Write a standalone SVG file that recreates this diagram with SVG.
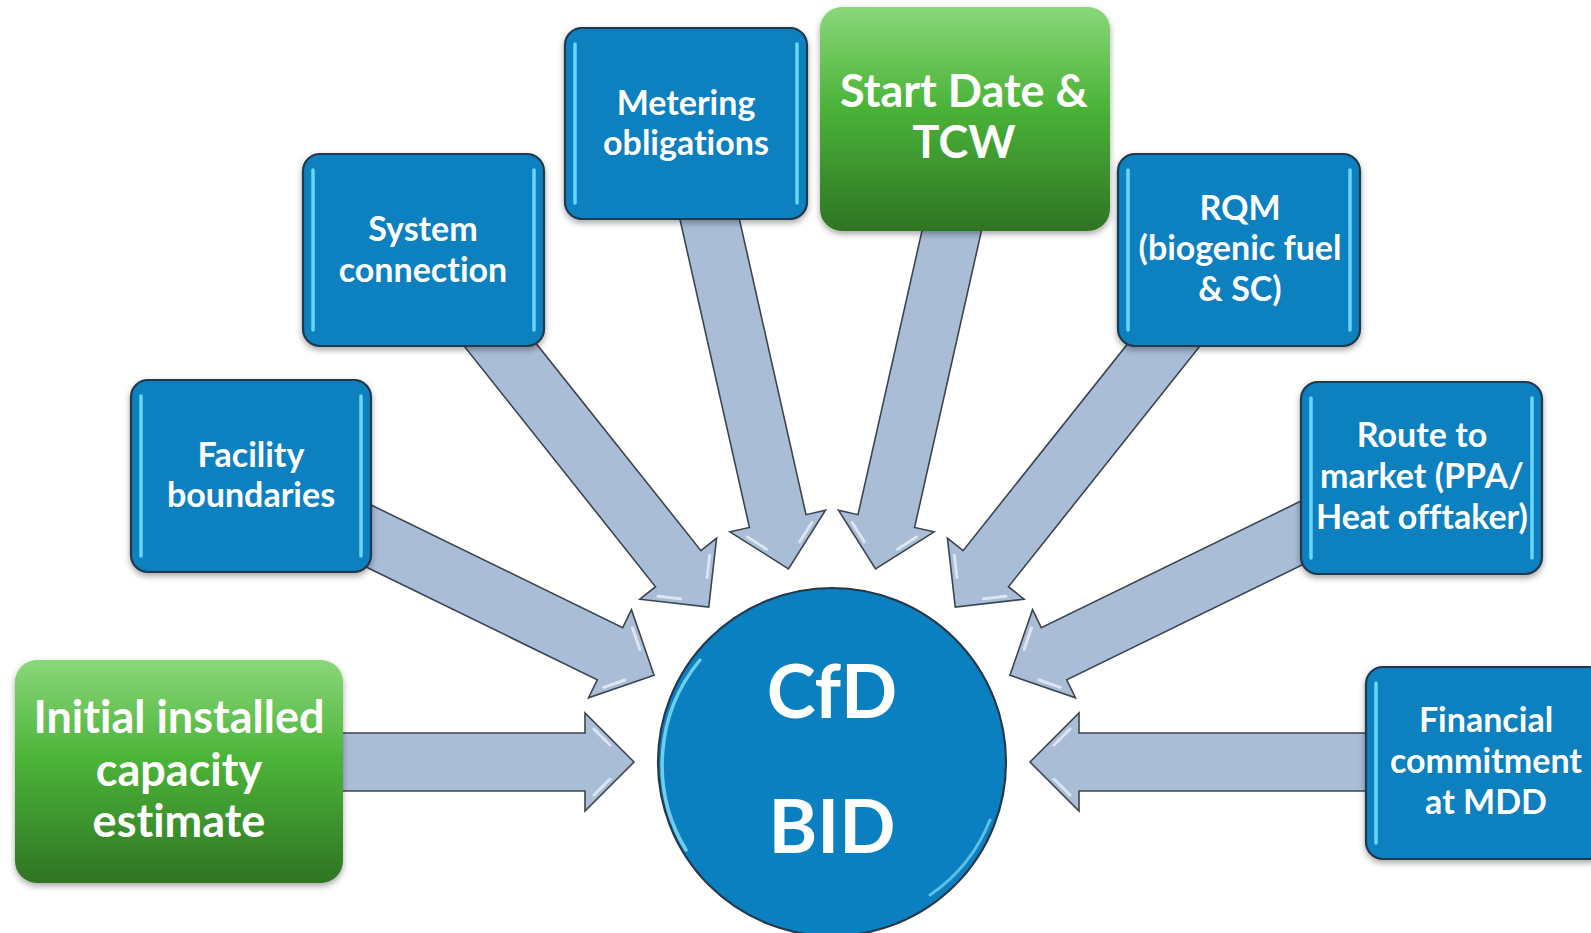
<svg xmlns="http://www.w3.org/2000/svg" xmlns:xlink="http://www.w3.org/1999/xlink" width="1591" height="933" viewBox="0 0 1591 933">
<style>
.arr{fill:#a9bdd7;stroke:#3c4550;stroke-width:1.6;stroke-linejoin:miter}
.hl{fill:none;stroke:#eef4fb;stroke-width:3;stroke-linecap:round;opacity:0.75}
.bbox{fill:#0a80c0;stroke:#22384e;stroke-width:2.2}
.side{stroke:#6ad6f7;stroke-width:3.5;stroke-linecap:round;fill:none}
.gbox{fill:url(#green)}
.t{font-family:Lato,"Open Sans","Liberation Sans",sans-serif;font-weight:700;fill:#ffffff;text-anchor:middle;font-variant-ligatures:none;font-feature-settings:"liga" 0,"dlig" 0}
.s33{font-size:34px}
.s45{font-size:45px}
.big{font-size:74px}
</style>
<defs>
<linearGradient id="green" x1="0" y1="0" x2="0" y2="1">
<stop offset="0" stop-color="#8ad77a"/>
<stop offset="0.45" stop-color="#4bb338"/>
<stop offset="1" stop-color="#2f7424"/>
</linearGradient>
<filter id="sh" x="-10%" y="-10%" width="120%" height="125%">
<feDropShadow dx="0" dy="3" stdDeviation="3" flood-color="#000" flood-opacity="0.35"/>
</filter>
<g id="arrow">
<polygon class="arr" points="-600,-29 -247,-29 -247,-49 -198,0 -247,49 -247,29 -600,29"/>
<path class="hl" d="M-238,-33 L-222,-17 M-238,33 L-222,17"/>
</g>
</defs>
<rect width="1591" height="933" fill="#ffffff"/>
<g id="connectors">
<use xlink:href="#arrow" transform="translate(832 762) rotate(0)"/>
<use xlink:href="#arrow" transform="translate(832 762) rotate(26)"/>
<use xlink:href="#arrow" transform="translate(832 762) rotate(51.5)"/>
<use xlink:href="#arrow" transform="translate(832 762) rotate(77.3)"/>
<use xlink:href="#arrow" transform="translate(832 762) rotate(102.7)"/>
<use xlink:href="#arrow" transform="translate(832 762) rotate(128.5)"/>
<use xlink:href="#arrow" transform="translate(832 762) rotate(154)"/>
<use xlink:href="#arrow" transform="translate(832 762) rotate(180)"/>
</g>
<g id="cfd-bid">
<circle cx="832" cy="762" r="174" fill="#0a80c0" stroke="#26384a" stroke-width="2.2"/>
<path d="M700,660 A164,164 0 0 0 686,850" fill="none" stroke="#7fdcf8" stroke-width="3.5" stroke-linecap="round" opacity="0.85"/>
<path d="M990,820 A164,164 0 0 1 930,895" fill="none" stroke="#7fdcf8" stroke-width="3" stroke-linecap="round" opacity="0.7"/>
<text class="t big" x="832" y="718">CfD</text>
<text class="t big" x="832" y="853">BID</text>
</g>
<g id="initial-capacity">
<rect class="gbox" x="15" y="660" width="328" height="223" rx="22" filter="url(#sh)"/>
<text class="t s45" x="179" y="733">Initial installed</text>
<text class="t s45" x="179" y="786">capacity</text>
<text class="t s45" x="179" y="837">estimate</text>
</g>
<g id="facility-boundaries">
<rect class="bbox" x="131" y="380" width="240" height="192" rx="17" filter="url(#sh)"/>
<path class="side" d="M141,396 V556 M361,396 V556"/>
<text class="t s33" x="251" y="467">Facility</text>
<text class="t s33" x="251" y="507">boundaries</text>
</g>
<g id="system-connection">
<rect class="bbox" x="303" y="154" width="241" height="192" rx="17" filter="url(#sh)"/>
<path class="side" d="M313,170 V330 M534,170 V330"/>
<text class="t s33" x="423" y="241">System</text>
<text class="t s33" x="423" y="282">connection</text>
</g>
<g id="metering-obligations">
<rect class="bbox" x="565" y="28" width="242" height="191" rx="17" filter="url(#sh)"/>
<path class="side" d="M575,44 V203 M797,44 V203"/>
<text class="t s33" x="686" y="115">Metering</text>
<text class="t s33" x="686" y="155">obligations</text>
</g>
<g id="start-date-tcw">
<rect class="gbox" x="820" y="7" width="290" height="224" rx="22" filter="url(#sh)"/>
<text class="t s45" x="964" y="107">Start Date &amp;</text>
<text class="t s45" x="964" y="158">TCW</text>
</g>
<g id="rqm">
<rect class="bbox" x="1118" y="154" width="242" height="192" rx="17" filter="url(#sh)"/>
<path class="side" d="M1128,170 V330 M1350,170 V330"/>
<text class="t s33" x="1240" y="220">RQM</text>
<text class="t s33" x="1240" y="260">(biogenic fuel</text>
<text class="t s33" x="1240" y="301">&amp; SC)</text>
</g>
<g id="route-to-market">
<rect class="bbox" x="1301" y="382" width="241" height="192" rx="17" filter="url(#sh)"/>
<path class="side" d="M1311,398 V558 M1532,398 V558"/>
<text class="t s33" x="1422" y="447">Route to</text>
<text class="t s33" x="1422" y="488">market (PPA/</text>
<text class="t s33" x="1422" y="529">Heat offtaker)</text>
</g>
<g id="financial-commitment">
<rect class="bbox" x="1366" y="667" width="240" height="192" rx="17" filter="url(#sh)"/>
<path class="side" d="M1376,683 V843"/>
<text class="t s33" x="1486" y="732">Financial</text>
<text class="t s33" x="1486" y="773">commitment</text>
<text class="t s33" x="1486" y="814">at MDD</text>
</g>
</svg>
